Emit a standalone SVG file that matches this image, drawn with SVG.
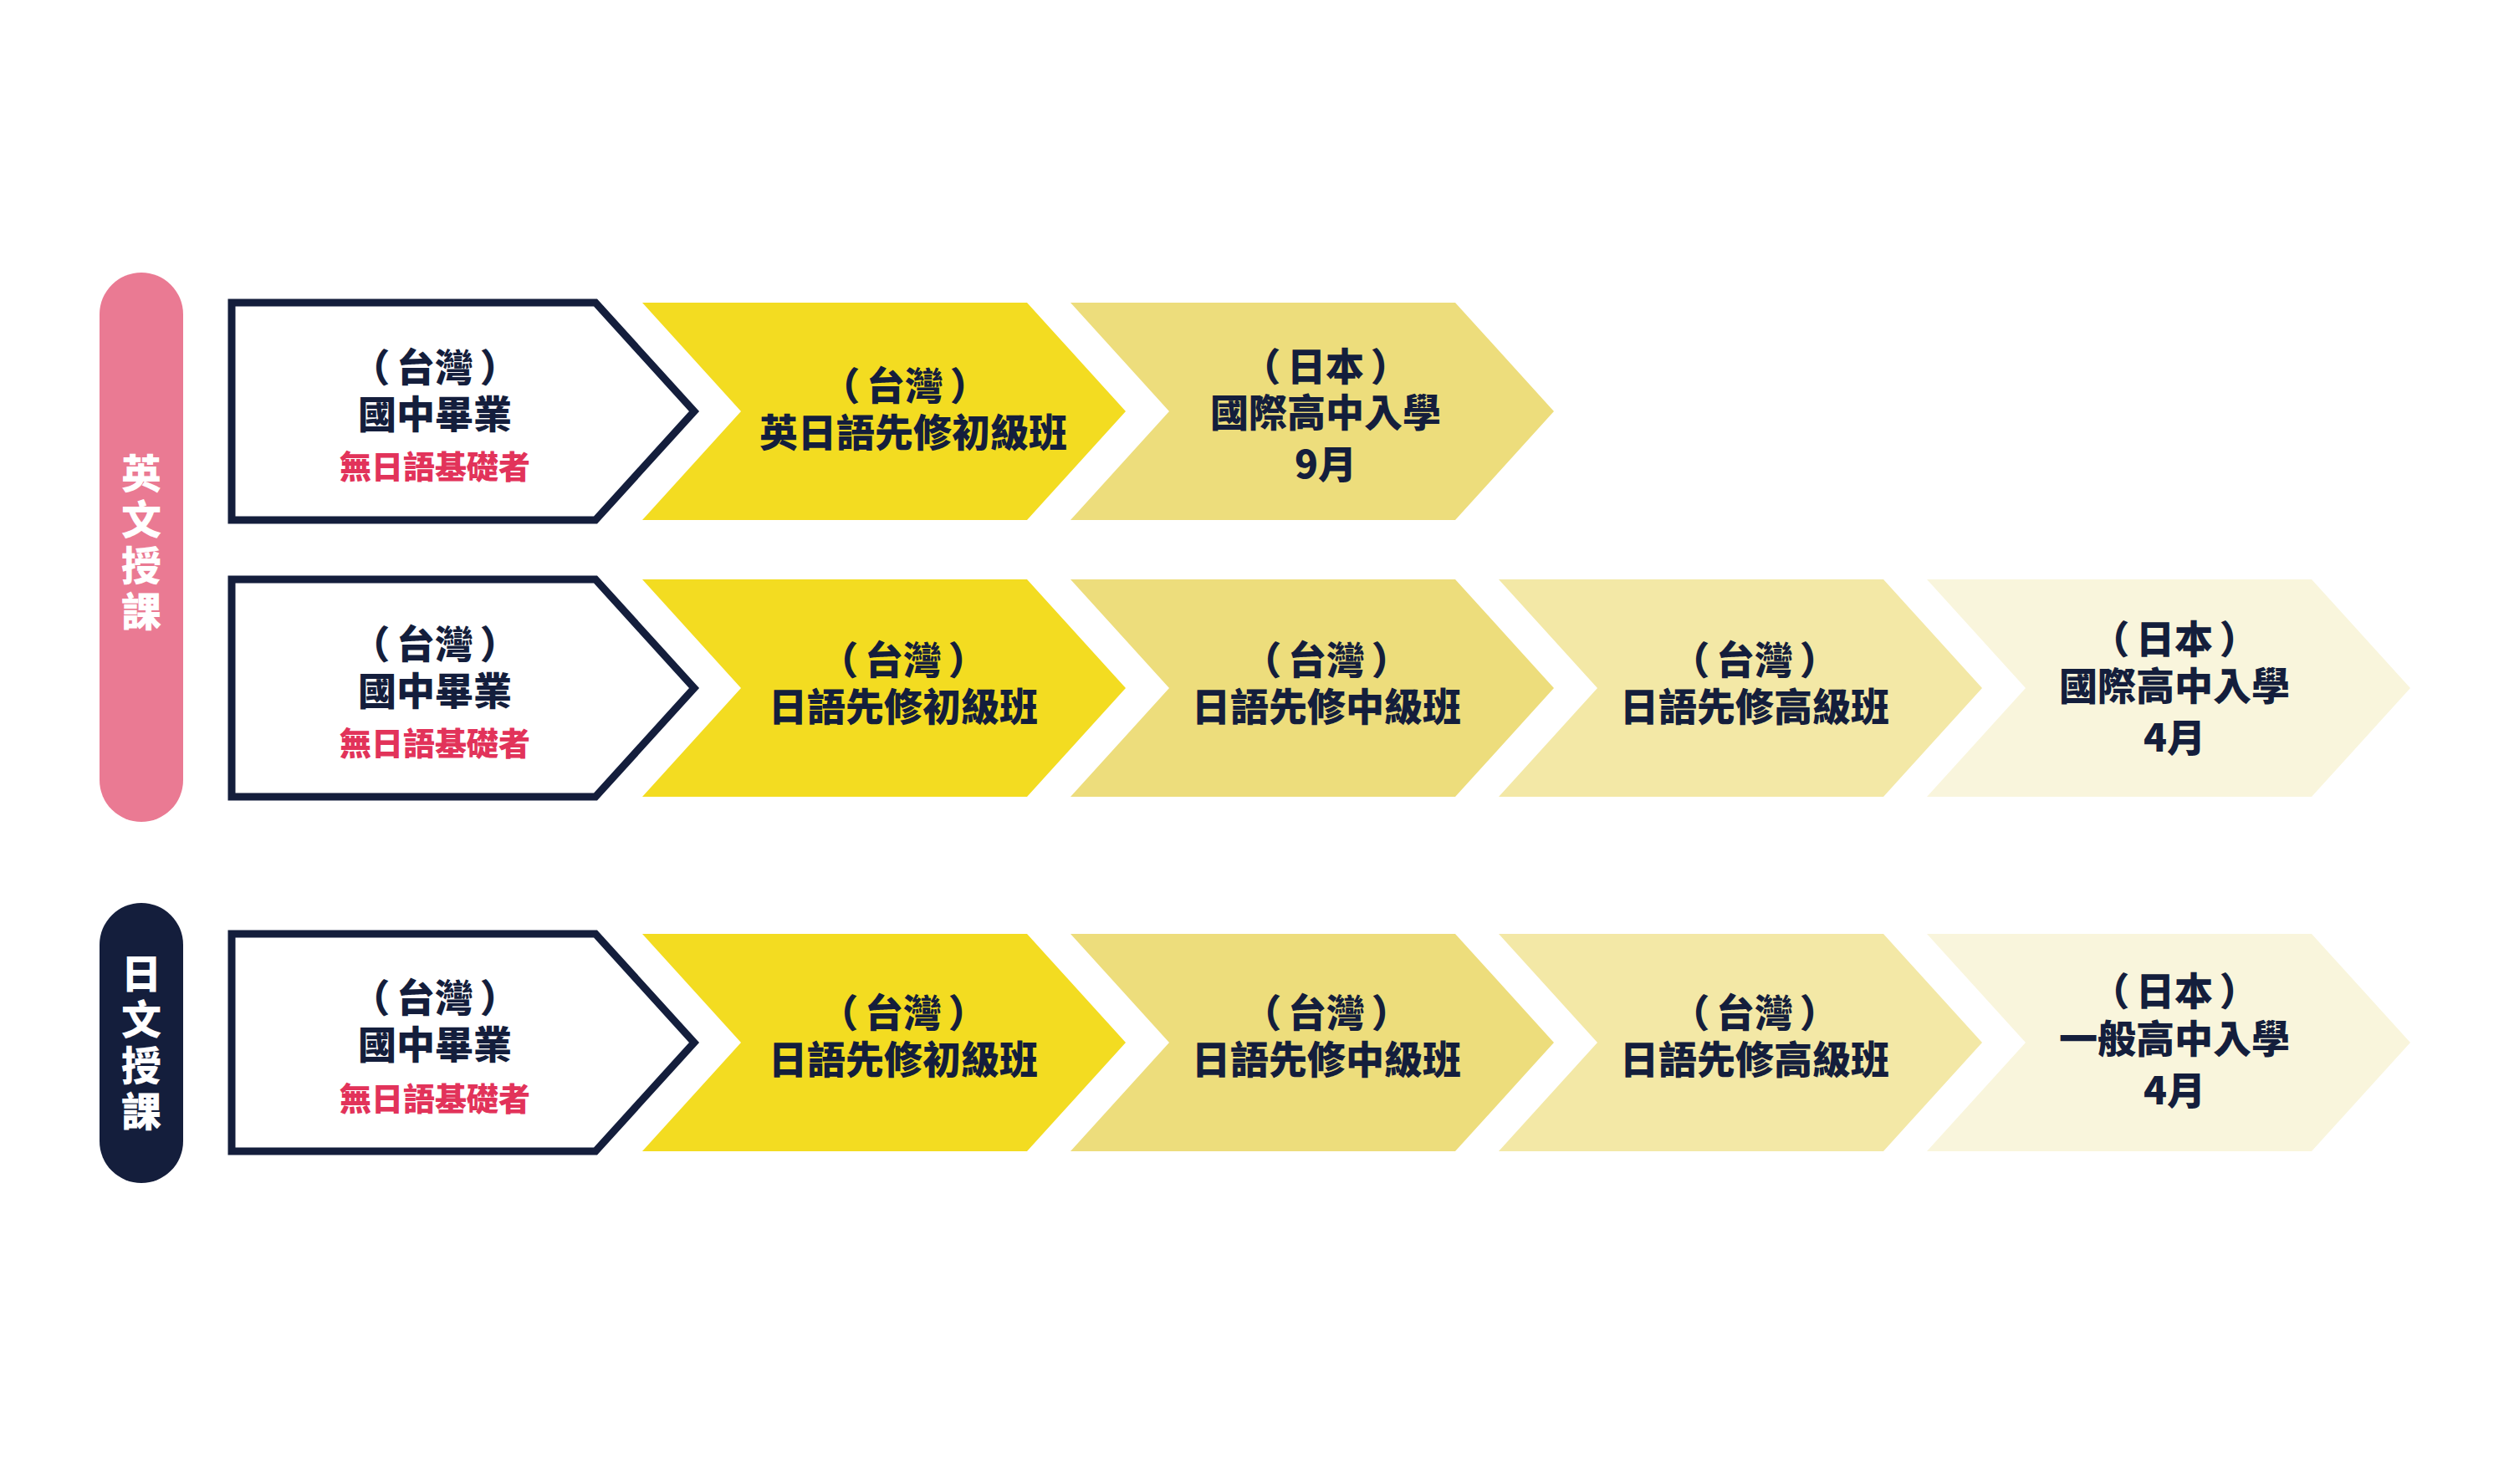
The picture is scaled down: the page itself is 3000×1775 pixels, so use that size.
<svg xmlns="http://www.w3.org/2000/svg" width="3000" height="1775" viewBox="0 0 3000 1775">
<style>
  text { font-family: "Noto Sans CJK TC", "Noto Sans CJK SC", "DejaVu Sans", sans-serif; font-weight: 900; text-anchor: middle; dominant-baseline: central; }
  .t { font-size: 46px; fill: #141E3C; }
  .r { font-size: 38px; fill: #E2335A; }
  .p { font-size: 48px; fill: #FFFFFF; writing-mode: vertical-rl; letter-spacing: 7px; }
  .box { fill: #FFFFFF; stroke: #141E3C; stroke-width: 9; stroke-linejoin: miter; }
  .c1 { fill: #F3DC21; }
  .c2 { fill: #EDDD7C; }
  .c3 { fill: #F3E8A6; }
  .c4 { fill: #F9F5DC; }
</style>
<defs>
  <path id="chev" d="M0,0 H460 L578,130 L460,260 H0 L118,130 Z"/>
  <path id="start" d="M277,0 H712 L830,130 L712,260 H277 Z"/>
</defs>
<rect width="3000" height="1775" fill="#FFFFFF"/>

<g id="pill-en">
  <rect x="119" y="326" width="100" height="657" rx="50" ry="50" fill="#EA7A93"/>
  <text class="p" x="169" y="652">英文授課</text>
</g>
<g id="pill-jp">
  <rect x="119" y="1080" width="100" height="335" rx="50" ry="50" fill="#141E3C"/>
  <text class="p" x="169" y="1250">日文授課</text>
</g>

<g id="connectors"></g>

<!-- Row 1 -->
<g id="r1-start">
  <use href="#start" class="box" y="362"/>
  <text class="t" x="520" y="436">（&#x2006;台灣&#x2006;）</text>
  <text class="t" x="520" y="492">國中畢業</text>
  <text class="r" x="520" y="555">無日語基礎者</text>
</g>
<g id="r1-c1">
  <use href="#chev" class="c1" x="768" y="362"/>
  <text class="t" x="1082" y="458">（&#x2006;台灣&#x2006;）</text>
  <text class="t" x="1092" y="514">英日語先修初級班</text>
</g>
<g id="r1-c2">
  <use href="#chev" class="c2" x="1280" y="362"/>
  <text class="t" x="1585" y="435">（&#x2006;日本&#x2006;）</text>
  <text class="t" x="1585" y="490">國際高中入學</text>
  <text class="t" x="1585" y="552">9月</text>
</g>

<!-- Row 2 -->
<g id="r2-start">
  <use href="#start" class="box" y="693"/>
  <text class="t" x="520" y="767">（&#x2006;台灣&#x2006;）</text>
  <text class="t" x="520" y="823">國中畢業</text>
  <text class="r" x="520" y="886">無日語基礎者</text>
</g>
<g id="r2-c1">
  <use href="#chev" class="c1" x="768" y="693"/>
  <text class="t" x="1080" y="786">（&#x2006;台灣&#x2006;）</text>
  <text class="t" x="1080" y="842">日語先修初級班</text>
</g>
<g id="r2-c2">
  <use href="#chev" class="c2" x="1280" y="693"/>
  <text class="t" x="1586" y="786">（&#x2006;台灣&#x2006;）</text>
  <text class="t" x="1586" y="842">日語先修中級班</text>
</g>
<g id="r2-c3">
  <use href="#chev" class="c3" x="1792" y="693"/>
  <text class="t" x="2098" y="786">（&#x2006;台灣&#x2006;）</text>
  <text class="t" x="2098" y="842">日語先修高級班</text>
</g>
<g id="r2-c4">
  <use href="#chev" class="c4" x="2304" y="693"/>
  <text class="t" x="2600" y="761">（&#x2006;日本&#x2006;）</text>
  <text class="t" x="2600" y="817">國際高中入學</text>
  <text class="t" x="2600" y="879">4月</text>
</g>

<!-- Row 3 -->
<g id="r3-start">
  <use href="#start" class="box" y="1117"/>
  <text class="t" x="520" y="1190">（&#x2006;台灣&#x2006;）</text>
  <text class="t" x="520" y="1246">國中畢業</text>
  <text class="r" x="520" y="1311">無日語基礎者</text>
</g>
<g id="r3-c1">
  <use href="#chev" class="c1" x="768" y="1117"/>
  <text class="t" x="1080" y="1208">（&#x2006;台灣&#x2006;）</text>
  <text class="t" x="1080" y="1264">日語先修初級班</text>
</g>
<g id="r3-c2">
  <use href="#chev" class="c2" x="1280" y="1117"/>
  <text class="t" x="1586" y="1208">（&#x2006;台灣&#x2006;）</text>
  <text class="t" x="1586" y="1264">日語先修中級班</text>
</g>
<g id="r3-c3">
  <use href="#chev" class="c3" x="1792" y="1117"/>
  <text class="t" x="2098" y="1208">（&#x2006;台灣&#x2006;）</text>
  <text class="t" x="2098" y="1264">日語先修高級班</text>
</g>
<g id="r3-c4">
  <use href="#chev" class="c4" x="2304" y="1117"/>
  <text class="t" x="2600" y="1182">（&#x2006;日本&#x2006;）</text>
  <text class="t" x="2600" y="1239">一般高中入學</text>
  <text class="t" x="2600" y="1301">4月</text>
</g>
</svg>
